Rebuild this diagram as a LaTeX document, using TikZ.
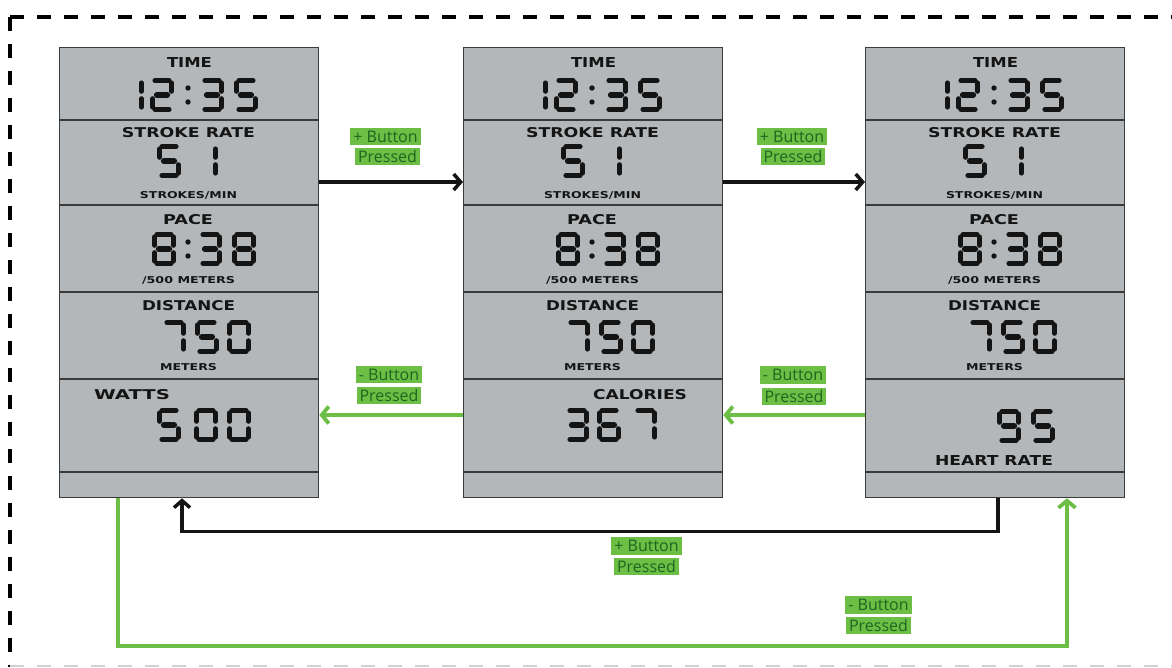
\documentclass[tikz,border=0pt]{standalone}
\usepackage{fontspec}
\usepackage{graphicx}
\usetikzlibrary{arrows.meta,calc}
\newfontfamily\lcdfont{DejaVu Sans}
\newfontfamily\btnfont{Open Sans}
\definecolor{lcdgray}{HTML}{B4B7B9}
\definecolor{lcdink}{HTML}{141414}
\definecolor{grn}{HTML}{6CBE45}
\definecolor{grntext}{HTML}{1D6620}
\definecolor{framec}{HTML}{3A3A3A}

\newcommand\lab[3]{\resizebox{#1pt}{#2pt}{\lcdfont\bfseries #3}}
\tikzset{sg/.style={draw=lcdink, line width=5.2pt, line cap=round}}
\def\lcdsega{\draw[sg] (5,2.6) -- (19,2.6);}
\def\lcdsegg{\draw[sg] (6.5,17) -- (17.5,17);}
\def\lcdsegd{\draw[sg] (5,31.4) -- (19,31.4);}
\def\lcdsegb{\draw[sg] (21.4,5) -- (21.4,13.2);}
\def\lcdsegc{\draw[sg] (21.4,20.8) -- (21.4,29);}
\def\lcdsege{\draw[sg] (2.6,20.8) -- (2.6,29);}
\def\lcdsegf{\draw[sg] (2.6,5) -- (2.6,13.2);}
\newcommand\lcdd[1]{%
  \ifcase#1 \def\lcdsl{a,b,c,d,e,f}\or \def\lcdsl{b,c}\or \def\lcdsl{a,b,g,e,d}\or
  \def\lcdsl{a,b,g,c,d}\or \def\lcdsl{b,c,f,g}\or \def\lcdsl{a,f,g,c,d}\or
  \def\lcdsl{a,f,g,e,d,c}\or \def\lcdsl{a,b,c}\or \def\lcdsl{a,b,c,d,e,f,g}\or
  \def\lcdsl{a,b,c,d,f,g}\fi
  \foreach \s in \lcdsl {\csname lcdseg\s\endcsname}%
}
\newcommand\lcdcolon[2]{\fill[lcdink] (#1,#2-7) circle[radius=2.7pt]; \fill[lcdink] (#1,#2+7) circle[radius=2.7pt];}

\tikzset{
  pics/dig/.style={code={\lcdd{#1}}},
  panel/.style={draw=framec, line width=1.3pt, fill=lcdgray, minimum width=259pt, minimum height=450pt, anchor=north west, inner sep=0pt},
  rowline/.style={draw=framec, line width=1.5pt},
  lcdlab/.style={inner sep=0pt, text=lcdink},
  blk/.style={draw=lcdink, line width=3.5pt, -{Straight Barb[length=7pt,width=16pt]}},
  grnline/.style={draw=grn, line width=3.8pt, -{Straight Barb[length=7pt,width=17pt]}},
  btn/.style={fill=grn, text=grntext, font=\btnfont\fontsize{16}{16}\selectfont, inner xsep=3pt, inner ysep=0pt, minimum height=17.5pt},
  dashline/.style={draw=black, line width=4pt, dash pattern=on 14pt off 13pt},
}

\newcommand\panelrows[1]{%
  \draw[rowline] (59,120) -- (318,120);
  \draw[rowline] (59,205) -- (318,205);
  \draw[rowline] (59,292) -- (318,292);
  \draw[rowline] (59,379) -- (318,379);
  \draw[rowline] (59,472) -- (318,472);
  \node[lcdlab] (time#1) at (189.5,62) {\lab{45}{10}{TIME}};
  \pic at (120,78) {dig=1}; \pic at (150,78) {dig=2}; \lcdcolon{188}{95}; \pic at (200,78) {dig=3}; \pic at (234,78) {dig=5};
  \node[lcdlab] (sr#1) at (188.5,133) {\lab{133}{10}{STROKE RATE}};
  \pic at (157,144) {dig=5}; \pic at (194,144) {dig=1};
  \node[lcdlab] (spm#1) at (188.5,195.5) {\lab{97}{7}{STROKES/MIN}};
  \node[lcdlab] (pace#1) at (188,220) {\lab{50}{10}{PACE}};
  \pic at (152,232) {dig=8}; \lcdcolon{188}{249}; \pic at (198,232) {dig=3}; \pic at (232,232) {dig=8};
  \node[lcdlab] (pm#1) at (188.5,280) {\lab{93}{7}{/500 METERS}};
  \node[lcdlab] (dist#1) at (188.5,306) {\lab{93}{10}{DISTANCE}};
  \pic at (162,320) {dig=7}; \pic at (195,320) {dig=5}; \pic at (227,320) {dig=0};
  \node[lcdlab] (m#1) at (188.5,367) {\lab{57}{7}{METERS}};
}

\begin{document}
\begin{tikzpicture}[x=1pt,y=-1pt]
\useasboundingbox (0,0) rectangle (1172,667);
\fill[white] (0,0) rectangle (1172,667);

% dashed frame
\coordinate (fbl) at (10,667);
\coordinate (ftl) at (10,17);
\coordinate (ftr) at (1172,17);
\draw[dashline] (ftl) -- (ftr);
\draw[dashline] (ftl) -- (fbl);
\draw[draw=gray!35, line width=2pt, dash pattern=on 14pt off 13pt] (10,666) -- (1172,666);

% panels
\node[panel] (p1) at (59,47) {};
\node[panel] (p2) at (463,47) {};
\node[panel] (p3) at (865,47) {};

\panelrows{a}
\begin{scope}[xshift=404pt]\panelrows{b}\end{scope}
\begin{scope}[xshift=806pt]\panelrows{c}\end{scope}

% bottom sections
\node[lcdlab] (watts) at (132,395) {\lab{76}{10}{WATTS}};
\pic at (157,408) {dig=5}; \pic at (194,408) {dig=0}; \pic at (227,408) {dig=0};
\node[lcdlab] (cal) at (640,395) {\lab{94}{10}{CALORIES}};
\pic at (565,408) {dig=3}; \pic at (597,408) {dig=6}; \pic at (633,408) {dig=7};
\pic at (997,409) {dig=9}; \pic at (1031,409) {dig=5};
\node[lcdlab] (hr) at (994,460.5) {\lab{118}{10}{HEART RATE}};

% connectors
\draw[blk] ($(p1.north east)+(0,135)$) -- ($(p2.north west)+(0,135)$);
\draw[blk] ($(p2.north east)+(0,135)$) -- ($(p3.north west)+(0,135)$);
\draw[grnline] ($(p2.north west)+(0,368)$) -- ($(p1.north east)+(0,368)$);
\draw[grnline] ($(p3.north west)+(0,368)$) -- ($(p2.north east)+(0,368)$);
\draw[blk] ($(p3.south west)+(133,0)$) -- ++(0,33) -| ($(p1.south west)+(123,0)$);
\draw[grnline] ($(p1.south west)+(59,0)$) -- ++(0,148) -| ($(p3.south west)+(202,0)$);

% button labels
\node[btn] (l1a) at (385.5,136.5) {+ Button};
\node[btn] (l1b) at (387.5,156.5) {Pressed};
\node[btn] (l2a) at (792,136.5) {+ Button};
\node[btn] (l2b) at (793,156.5) {Pressed};
\node[btn] (l3a) at (389,374.5) {- Button};
\node[btn] (l3b) at (389,395.5) {Pressed};
\node[btn] (l4a) at (793,375) {- Button};
\node[btn] (l4b) at (794,396.5) {Pressed};
\node[btn] (l5a) at (646.5,546) {+ Button};
\node[btn] (l5b) at (646.5,566.5) {Pressed};
\node[btn] (l6a) at (878.5,605) {- Button};
\node[btn] (l6b) at (878.5,625.5) {Pressed};
\end{tikzpicture}
\end{document}
